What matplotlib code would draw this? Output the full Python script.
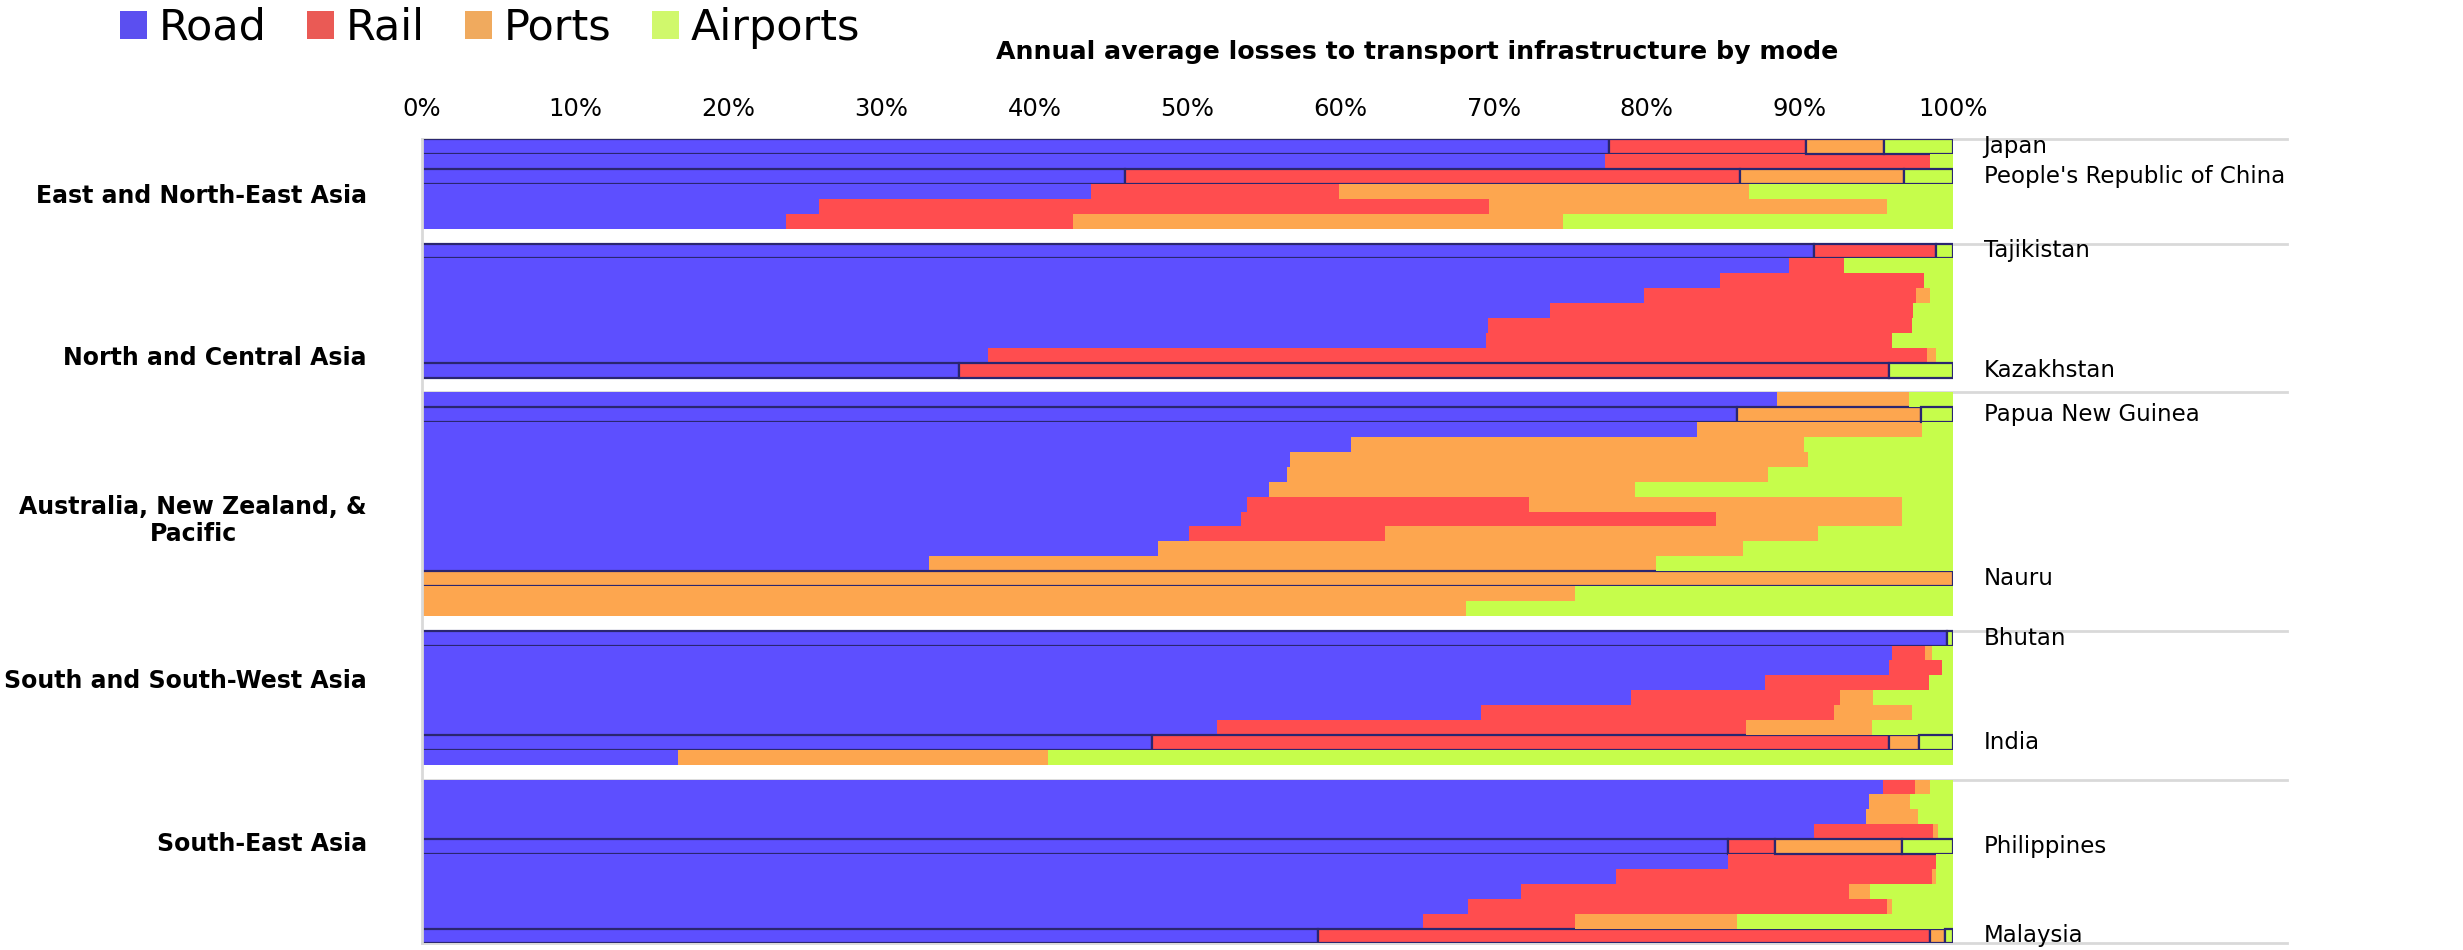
import matplotlib.pyplot as plt
from matplotlib.patches import Patch

modes = ['Road', 'Rail', 'Ports', 'Airports']
mode_colors = ['#5d4fff', '#ff4d4f', '#fda64f', '#c6fd4b']
legend_colors = ['#5b4ff0', '#ea5a55', '#f0aa5e', '#d0f86c']
ticks = [0, 10, 20, 30, 40, 50, 60, 70, 80, 90, 100]
tick_labels = [f'{t}%' for t in ticks]

regions = ['East and North-East Asia', 'North and Central Asia',
           'Australia, New Zealand, &\nPacific', 'South and South-West Asia',
           'South-East Asia']

# East and North-East Asia
ene_names = ['Japan', '', "People's Republic of China", '', '', '']
ene_road = [77.5, 77.3, 45.9, 43.7, 25.9, 23.8]
ene_rail = [12.9, 21.2, 40.2, 16.2, 43.8, 18.7]
ene_ports = [5.1, 0, 10.7, 26.8, 26.0, 32.0]
ene_air = [4.5, 1.5, 3.2, 13.3, 4.3, 25.5]

# North and Central Asia
nca_names = ['Tajikistan', '', '', '', '', '', '', '', 'Kazakhstan']
nca_road = [90.9, 89.3, 84.8, 79.8, 73.7, 69.6, 69.5, 37.0, 35.1]
nca_rail = [8.0, 3.6, 13.3, 17.8, 23.7, 27.7, 26.5, 61.3, 60.7]
nca_ports = [0, 0, 0, 0.9, 0, 0, 0, 0.6, 0]
nca_air = [1.1, 7.1, 1.9, 1.5, 2.6, 2.7, 4.0, 1.1, 4.2]

# Australia, New Zealand and Pacific
pac_names = ['', 'Papua New Guinea', '', '', '', '', '', '', '', '', '', '',
             'Nauru', '', '']
pac_road = [88.5, 85.9, 83.3, 60.7, 56.7, 56.5, 55.3, 53.9, 53.5, 50.1, 48.1,
            33.1, 0, 0, 0]
pac_rail = [0, 0, 0, 0, 0, 0, 0, 18.4, 31.0, 12.8, 0, 0, 0, 0, 0]
pac_ports = [8.6, 12.0, 14.7, 29.6, 33.8, 31.4, 23.9, 24.4, 12.2, 28.3, 38.2,
             47.5, 100, 75.3, 68.2]
pac_air = [2.9, 2.1, 2.0, 9.7, 9.5, 12.1, 20.8, 3.3, 3.3, 8.8, 13.7, 19.4, 0,
           24.7, 31.8]

# South and South-West Asia
ssw_names = ['Bhutan', '', '', '', '', '', '', 'India', '']
ssw_road = [99.6, 96.0, 95.8, 87.7, 79.0, 69.2, 51.9, 47.7, 16.7]
ssw_rail = [0, 2.2, 3.5, 10.7, 13.6, 23.0, 34.6, 48.1, 0]
ssw_ports = [0, 0.4, 0, 0, 2.2, 5.1, 8.2, 2.0, 24.2]
ssw_air = [0.4, 1.4, 0.7, 1.6, 5.2, 2.7, 5.3, 2.2, 59.1]

# South-East Asia
sea_names = ['', '', '', '', 'Philippines', '', '', '', '', '', 'Malaysia']
sea_road = [95.4, 94.5, 94.3, 90.9, 85.3, 85.3, 78.0, 71.8, 68.3, 65.4, 58.5]
sea_rail = [2.1, 0, 0, 7.8, 3.1, 13.6, 20.6, 21.4, 27.4, 9.9, 40.0]
sea_ports = [1.0, 2.7, 3.4, 0.3, 8.3, 0, 0.3, 1.4, 0.3, 10.6, 1.0]
sea_air = [1.5, 2.8, 2.3, 1.0, 3.3, 1.1, 1.1, 5.4, 4.0, 14.1, 0.5]

region_data = [
    (ene_names, [ene_road, ene_rail, ene_ports, ene_air]),
    (nca_names, [nca_road, nca_rail, nca_ports, nca_air]),
    (pac_names, [pac_road, pac_rail, pac_ports, pac_air]),
    (ssw_names, [ssw_road, ssw_rail, ssw_ports, ssw_air]),
    (sea_names, [sea_road, sea_rail, sea_ports, sea_air]),
]
# where the region name sits, in rows down from the top of its block
label_offsets = [3.8, 7.7, 8.6, 3.4, 4.3]

font = ['DejaVu Sans']
edge = '#2a2670'
grid = '#d9d9d9'

fig = plt.figure(figsize=(24.63, 9.5), dpi=100)
ax = fig.add_axes([422 / 2463, 1 - 943.4 / 950, 1531 / 2463, 804.1 / 950])

start = 0
for (names, shares), region, off in zip(region_data, regions, label_offsets):
    n = len(names)
    ys = [start + i + 0.5 for i in range(n)]
    left = [0.0] * n
    for k in range(4):
        vals = shares[k]
        lws = [1.6 if (names[i] and vals[i] > 0) else 0 for i in range(n)]
        ax.barh(ys, vals, left=left, height=1.0, color=mode_colors[k],
                edgecolor=edge, linewidth=lws, zorder=2)
        left = [l + v for l, v in zip(left, vals)]
    for y, name in zip(ys, names):
        if name:
            ax.text(102.0, y, name, ha='left', va='center', fontsize=16.5,
                    family=font)
    ax.text(-3.6, start + off, region, ha='right', va='center',
            multialignment='center', fontsize=17, fontweight='bold',
            family=font)
    ax.plot([0, 121.8], [start, start], color=grid, lw=2, zorder=1,
            clip_on=False)
    start += n + 1
ax.plot([0, 121.8], [start - 1, start - 1], color=grid, lw=2, zorder=1,
        clip_on=False)

ax.set_xlim(0, 100)
ax.set_ylim(start - 1, 0)
ax.xaxis.tick_top()
ax.set_xticks(ticks)
ax.set_xticklabels(tick_labels, fontsize=17.5, family=font)
ax.tick_params(axis='x', length=0, pad=13)
ax.set_yticks([])
for s in ['top', 'right', 'bottom']:
    ax.spines[s].set_visible(False)
ax.spines['left'].set_color(grid)
ax.spines['left'].set_linewidth(2)

fig.text(1417 / 2463, 1 - 59 / 950,
         'Annual average losses to transport infrastructure by mode',
         ha='center', va='baseline', fontsize=18.2, fontweight='bold',
         family=font)

handles = [Patch(facecolor=c, edgecolor='none') for c in legend_colors]
fig.legend(handles, modes, loc='center left',
           bbox_to_anchor=(120 / 2463, 1 - 28 / 950), ncol=4, frameon=False,
           prop={'family': font, 'size': 31}, handlelength=0.62,
           handleheight=0.62, handletextpad=0.27, columnspacing=0.95,
           borderpad=0, borderaxespad=0)

fig.savefig('out.png', dpi=100)
